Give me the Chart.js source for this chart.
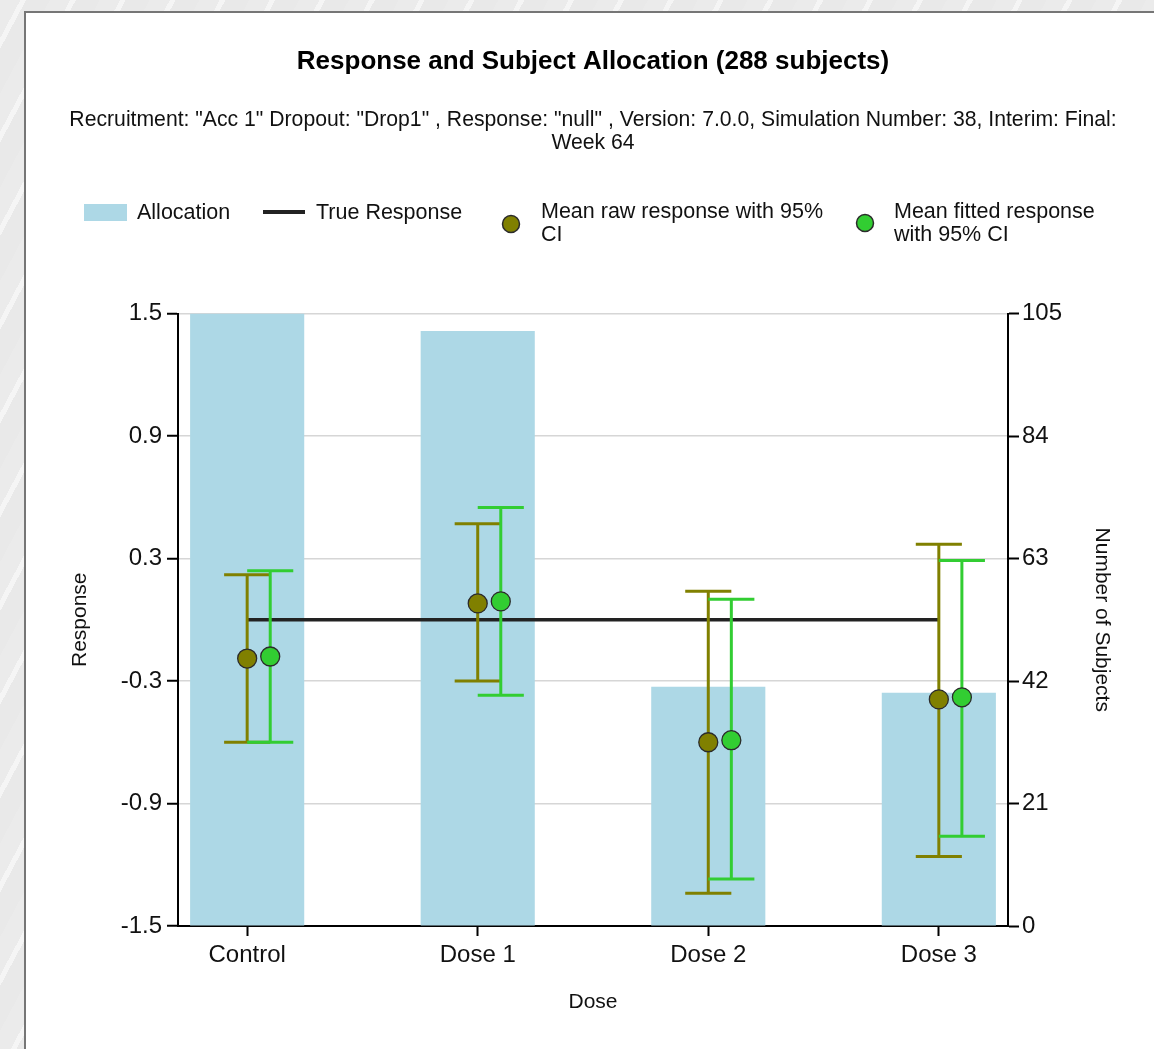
<!DOCTYPE html>
<html>
<head>
<meta charset="utf-8">
<script src="https://cdn.jsdelivr.net/npm/chart.js@4.4.1/dist/chart.umd.min.js"></script>
<style>
  html, body { margin: 0; padding: 0; }
  body {
    width: 1154px; height: 1049px; overflow: hidden; position: relative;
    background: repeating-linear-gradient(118deg, #ebebeb 0px, #ebebeb 18px, #f5f5f5 18px, #f5f5f5 23px, #e9e9e9 23px, #e9e9e9 44px);
  }
  #panel {
    position: absolute; left: 24px; top: 11px; width: 1200px; height: 1100px;
    background: #ffffff; border: 2px solid #767676; box-sizing: border-box;
  }
  #c { position: absolute; left: 0; top: 0; }
</style>
</head>
<body>
<div id="panel"></div>
<canvas id="c" width="1154" height="1049"></canvas>
<script>
// ---------------- data ----------------
const categories    = ['Control', 'Dose 1', 'Dose 2', 'Dose 3'];
const allocation    = [105, 102, 41, 40];
const trueResponse  = [0, 0, 0, 0];
const rawMean       = [-0.19, 0.08, -0.60, -0.39];
const rawLower      = [-0.60, -0.30, -1.34, -1.16];
const rawUpper      = [0.22, 0.47, 0.14, 0.37];
const fitMean       = [-0.18, 0.09, -0.59, -0.38];
const fitLower      = [-0.60, -0.37, -1.27, -1.06];
const fitUpper      = [0.24, 0.55, 0.10, 0.29];
const responseTicks = [-1.5, -0.9, -0.3, 0.3, 0.9, 1.5];
const subjectTicks  = [0, 21, 42, 63, 84, 105];

const titleText    = 'Response and Subject Allocation (288 subjects)';
const subtitleText = ['Recruitment: "Acc 1" Dropout: "Drop1" , Response: "null" , Version: 7.0.0, Simulation Number: 38, Interim: Final:', 'Week 64'];
const legendLabels = ['Allocation', 'True Response', 'Mean raw response with 95% CI', 'Mean fitted response with 95% CI'];
const legendLines  = [['Allocation'], ['True Response'], ['Mean raw response with 95%', 'CI'], ['Mean fitted response', 'with 95% CI']];

// ---------------- styles ----------------
const FONT = '"Liberation Sans", Arial, sans-serif';
const TEXT = '#111111';
const BAR_COLOR = '#ADD8E6';
const RAW_COLOR = '#808000';
const FIT_COLOR = '#32CD32';
const RAW_OFFSET = 0;
const FIT_OFFSET = 0.1;
const CAP_HALF = 0.1;

const errorBarPlugin = {
  id: 'errorBars',
  beforeDatasetDraw(chart, args) {
    if (args.index !== 2) return;
    const { ctx, chartArea, scales: { x, y } } = chart;
    const series = [
      { lo: rawLower, hi: rawUpper, off: RAW_OFFSET, color: RAW_COLOR },
      { lo: fitLower, hi: fitUpper, off: FIT_OFFSET, color: FIT_COLOR }
    ];
    ctx.save();
    ctx.beginPath();
    ctx.rect(chartArea.left, chartArea.top, chartArea.right - chartArea.left, chartArea.bottom - chartArea.top);
    ctx.clip();
    series.forEach(s => {
      ctx.strokeStyle = s.color;
      ctx.lineWidth = 3;
      ctx.lineCap = 'butt';
      categories.forEach((c, i) => {
        const xc = x.getPixelForValue(i + s.off);
        const xl = x.getPixelForValue(i + s.off - CAP_HALF);
        const xr = x.getPixelForValue(i + s.off + CAP_HALF);
        const yl = y.getPixelForValue(s.lo[i]);
        const yh = y.getPixelForValue(s.hi[i]);
        ctx.beginPath();
        ctx.moveTo(xc, yl); ctx.lineTo(xc, yh);
        ctx.moveTo(xl, yh); ctx.lineTo(xr, yh);
        ctx.moveTo(xl, yl); ctx.lineTo(xr, yl);
        ctx.stroke();
      });
    });
    ctx.restore();
  }
};

const legendPlugin = {
  id: 'customLegend',
  afterDraw(chart) {
    const { ctx } = chart;
    const ds = chart.data.datasets;
    ctx.save();
    ctx.font = '21.5px ' + FONT;
    ctx.textBaseline = 'middle';
    ctx.textAlign = 'left';
    const lh = 23.5;
    const drawLabel = (lines, x, y) => {
      ctx.fillStyle = TEXT;
      lines.forEach((t, k) => ctx.fillText(t, x, y + k * lh));
    };
    // Allocation swatch
    ctx.fillStyle = ds[0].backgroundColor;
    ctx.fillRect(84, 204, 43, 17);
    drawLabel(legendLines[0], 137, 213);
    // True response line
    ctx.strokeStyle = ds[1].borderColor;
    ctx.lineWidth = 4;
    ctx.beginPath(); ctx.moveTo(263, 212); ctx.lineTo(305, 212); ctx.stroke();
    drawLabel(legendLines[1], 316, 213);
    // Raw marker
    ctx.fillStyle = ds[2].pointBackgroundColor;
    ctx.strokeStyle = ds[2].pointBorderColor;
    ctx.lineWidth = 1.5;
    ctx.beginPath(); ctx.arc(511, 224, 8.5, 0, Math.PI * 2); ctx.fill(); ctx.stroke();
    drawLabel(legendLines[2], 541, 212);
    // Fitted marker
    ctx.fillStyle = ds[3].pointBackgroundColor;
    ctx.strokeStyle = ds[3].pointBorderColor;
    ctx.beginPath(); ctx.arc(865, 223, 8.5, 0, Math.PI * 2); ctx.fill(); ctx.stroke();
    drawLabel(legendLines[3], 894, 212);
    ctx.restore();
  }
};

const ctx = document.getElementById('c').getContext('2d');
new Chart(ctx, {
  type: 'bar',
  data: {
    datasets: [
      {
        type: 'bar',
        label: legendLabels[0],
        data: categories.map((c, i) => ({ x: i, y: allocation[i] })),
        backgroundColor: BAR_COLOR,
        borderWidth: 0,
        yAxisID: 'y1',
        categoryPercentage: 1,
        barPercentage: 0.495,
        order: 4
      },
      {
        type: 'line',
        label: legendLabels[1],
        data: categories.map((c, i) => ({ x: i, y: trueResponse[i] })),
        borderColor: '#222222',
        borderWidth: 3.5,
        pointRadius: 0,
        fill: false,
        yAxisID: 'y',
        order: 3
      },
      {
        type: 'line',
        label: legendLabels[2],
        data: categories.map((c, i) => ({ x: i + RAW_OFFSET, y: rawMean[i] })),
        showLine: false,
        pointRadius: 9.5,
        pointBorderWidth: 1.3,
        pointBackgroundColor: RAW_COLOR,
        pointBorderColor: '#2b2b2b',
        yAxisID: 'y',
        order: 2
      },
      {
        type: 'line',
        label: legendLabels[3],
        data: categories.map((c, i) => ({ x: i + FIT_OFFSET, y: fitMean[i] })),
        showLine: false,
        pointRadius: 9.5,
        pointBorderWidth: 1.3,
        pointBackgroundColor: FIT_COLOR,
        pointBorderColor: '#2b2b2b',
        yAxisID: 'y',
        order: 1
      }
    ]
  },
  options: {
    responsive: false,
    animation: false,
    devicePixelRatio: 1,
    layout: { padding: { left: 32, right: 0, top: 0, bottom: 0 } },
    plugins: {
      legend: { display: false },
      tooltip: { enabled: false },
      title: {
        display: true,
        text: titleText,
        color: '#000',
        font: { family: FONT, size: 26, weight: 'bold', lineHeight: 1.2 },
        padding: { top: 46.4, bottom: 0 }
      },
      subtitle: {
        display: true,
        text: subtitleText,
        color: TEXT,
        font: { family: FONT, size: 21.2, lineHeight: '23px' },
        padding: { top: 31.4, bottom: 158.5 }
      }
    },
    scales: {
      x: {
        type: 'linear',
        offset: false,
        min: -0.3,
        max: 3.3,
        afterBuildTicks: s => { s.ticks = categories.map((c, i) => ({ value: i })); },
        afterFit: s => { s.height = 123; },
        ticks: {
          callback: v => categories[v],
          color: TEXT,
          font: { family: FONT, size: 24 },
          padding: 5,
          maxRotation: 0,
          autoSkip: false
        },
        grid: { offset: false, drawOnChartArea: false, drawTicks: true, tickLength: 10, tickColor: '#000', tickWidth: 2 },
        border: { display: true, color: '#000', width: 2 },
        title: {
          display: true, text: 'Dose', color: TEXT,
          font: { family: FONT, size: 21, lineHeight: 1.2 },
          padding: { top: 0, bottom: 34.4 }
        }
      },
      y: {
        type: 'linear',
        position: 'left',
        min: -1.5,
        max: 1.5,
        afterBuildTicks: s => { s.ticks = responseTicks.map(v => ({ value: v })); },
        afterFit: s => { s.width = 146; },
        ticks: {
          callback: v => String(v),
          color: TEXT,
          font: { family: FONT, size: 24 },
          padding: 5
        },
        grid: { color: '#d6d6d6', lineWidth: 1.5, drawTicks: true, tickLength: 11, tickColor: '#000', tickWidth: 2 },
        border: { display: true, color: '#000', width: 2 },
        title: {
          display: true, text: 'Response', color: TEXT,
          font: { family: FONT, size: 21, lineHeight: 1.2 },
          padding: { top: 35.4, bottom: 0 }
        }
      },
      y1: {
        type: 'linear',
        position: 'right',
        min: 0,
        max: 105,
        afterBuildTicks: s => { s.ticks = subjectTicks.map(v => ({ value: v })); },
        afterFit: s => { s.width = 146; },
        ticks: {
          color: TEXT,
          font: { family: FONT, size: 24 },
          padding: 3
        },
        grid: { drawOnChartArea: false, drawTicks: true, tickLength: 11, tickColor: '#000', tickWidth: 2 },
        border: { display: true, color: '#000', width: 2 },
        title: {
          display: true, text: 'Number of Subjects', color: TEXT,
          font: { family: FONT, size: 21, lineHeight: 1.2 },
          padding: { top: 39.4, bottom: 0 }
        }
      }
    }
  },
  plugins: [errorBarPlugin, legendPlugin]
});
</script>
</body>
</html>
